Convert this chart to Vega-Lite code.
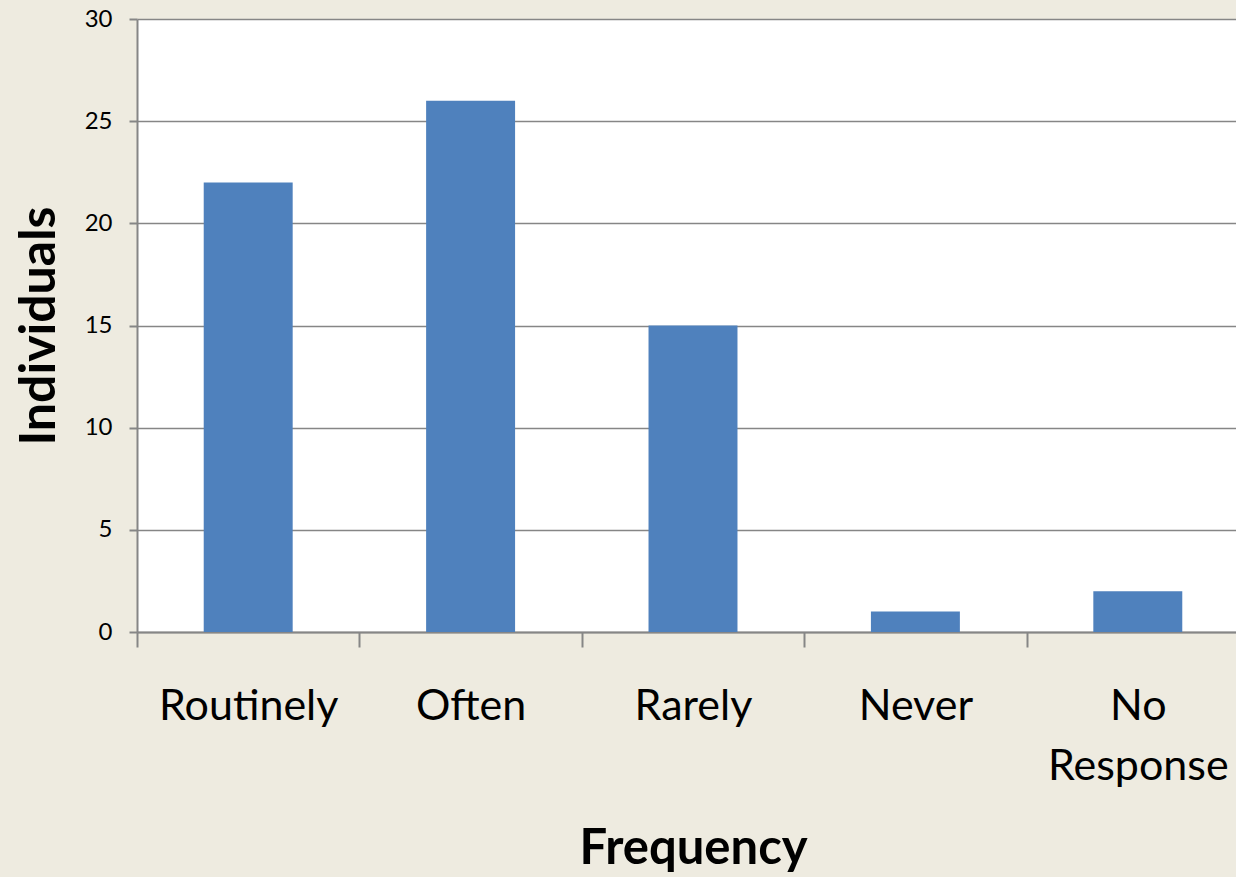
{
  "$schema": "https://vega.github.io/schema/vega-lite/v6.json",
  "autosize": "none",
  "padding": {"left": 137, "top": 19, "right": 0, "bottom": 245},
  "width": 1099,
  "height": 613,
  "background": "#EEEBE0",
  "config": {
    "view": {"fill": "white", "stroke": null},
    "font": "Lato"
  },
  "data": {
    "values": [
      {"Frequency": "Routinely", "Individuals": 22},
      {"Frequency": "Often", "Individuals": 26},
      {"Frequency": "Rarely", "Individuals": 15},
      {"Frequency": "Never", "Individuals": 1},
      {"Frequency": "No Response", "Individuals": 2}
    ]
  },
  "mark": {"type": "bar", "color": "#4F81BD", "width": {"band": 0.4}},
  "encoding": {
    "x": {
      "field": "Frequency",
      "type": "nominal",
      "sort": null,
      "scale": {"paddingInner": 0, "paddingOuter": 0, "range": [0, 1112]},
      "axis": {
        "title": "Frequency",
        "titleFont": "Lato",
        "titleFontSize": 49,
        "titleFontWeight": "bold",
        "titleColor": "black",
        "titlePadding": 36,
        "labelAngle": 0,
        "labelFont": "Lato",
        "labelFontSize": 43,
        "labelColor": "black",
        "labelPadding": 38,
        "labelLineHeight": 60,
        "labelLimit": 400,
        "labelOverlap": false,
        "labelExpr": "datum.label == 'No Response' ? ['No', 'Response'] : datum.label",
        "tickBand": "extent",
        "tickSize": 15,
        "tickColor": "#868686",
        "tickWidth": 2,
        "domainColor": "#868686",
        "domainWidth": 2,
        "grid": false
      }
    },
    "y": {
      "field": "Individuals",
      "type": "quantitative",
      "scale": {"domain": [0, 30]},
      "axis": {
        "title": "Individuals",
        "titleFont": "Lato",
        "titleFontSize": 50,
        "titleFontWeight": "bold",
        "titleColor": "black",
        "titlePadding": 20,
        "values": [0, 5, 10, 15, 20, 25, 30],
        "labelFont": "Lato",
        "labelFontSize": 24,
        "labelColor": "black",
        "labelPadding": 17,
        "tickSize": 8,
        "tickColor": "#868686",
        "tickWidth": 2,
        "domainColor": "#868686",
        "domainWidth": 2,
        "grid": true,
        "gridColor": "#868686",
        "gridWidth": 1.5
      }
    }
  }
}
